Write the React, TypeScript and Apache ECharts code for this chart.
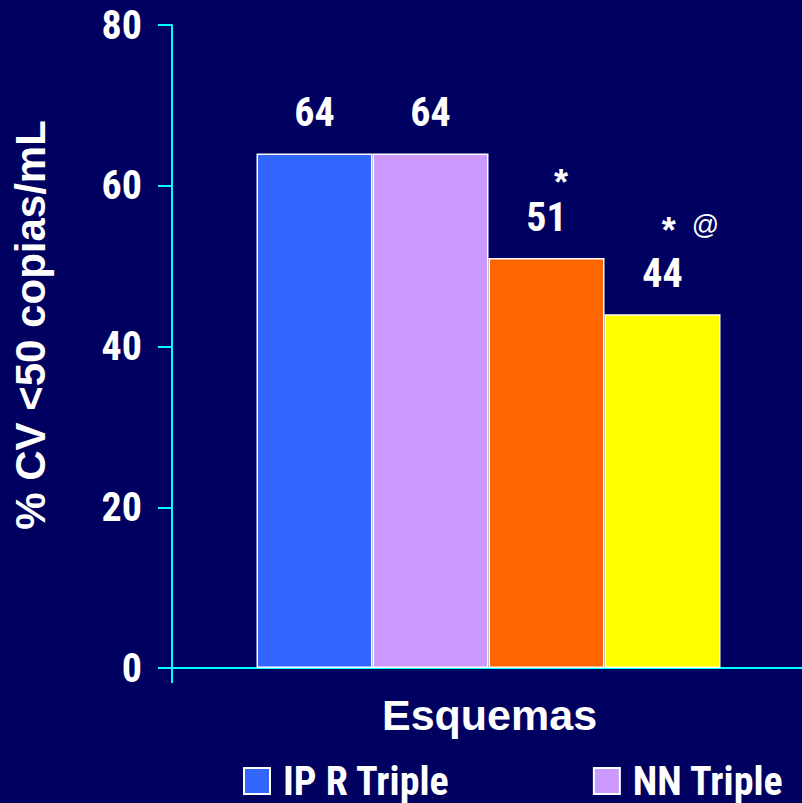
import React, { useEffect, useRef } from "react";
import * as echarts from "echarts";

const categories = ["Esquemas"];
const seriesNames = ["IP R Triple", "NN Triple", "Esquema 3", "Esquema 4"];
const seriesValues = [64, 64, 51, 44];
const annotations = ["", "", "*", "* @"];
const legendItems = ["IP R Triple", "NN Triple"];
const yTicks = [0, 20, 40, 60, 80];
const yAxisTitle = "% CV <50 copias/mL";
const xAxisTitle = "Esquemas";

const colors = ["#3366FF", "#CC99FF", "#FF6600", "#FFFF00"];
const BG = "#000060";
const CYAN = "#00FFFF";
const NARROW = '"Roboto Condensed", "Open Sans Condensed", sans-serif';
const WIDE = '"Liberation Sans", Arial, sans-serif';

function labelFor(i: number) {
  const v = seriesValues[i];
  const ann = annotations[i];
  const rich: any = {
    v: { fontFamily: NARROW, fontWeight: "bold", fontSize: 40, color: "#fff", lineHeight: 40 },
    s: { fontFamily: WIDE, fontWeight: "bold", fontSize: 36, color: "#fff", lineHeight: 30 },
    a: { fontFamily: WIDE, fontWeight: "normal", fontSize: 27, color: "#fff", lineHeight: 20, padding: [0, 0, 10, 0] },
  };
  let formatter = `{v|${v}}`;
  if (ann === "*") {
    rich.s = { ...rich.s, padding: [0, 0, 0, 29] };
    formatter = `{s|*}\n{v|${v}}`;
  } else if (ann === "* @") {
    rich.s = { ...rich.s, padding: [0, 16, 0, 56], lineHeight: 46 };
    formatter = `{s|*}{a|@}\n{v|${v}}`;
  }
  return {
    show: true,
    position: "top",
    distance: 21,
    formatter,
    rich,
  };
}

export default function App() {
  const ref = useRef<HTMLDivElement>(null);
  useEffect(() => {
    if (!ref.current) return;
    const chart = echarts.init(ref.current, null, { renderer: "svg" });
    chart.setOption({
      animation: false,
      backgroundColor: BG,
      grid: { left: 172, right: -3, top: 25, bottom: 135, outerBoundsMode: "none" },
      legend: {
        data: legendItems,
        left: 238,
        top: 756,
        width: 600,
        icon: "rect",
        itemWidth: 26,
        itemHeight: 26,
        itemGap: 143,
        itemStyle: { borderColor: "#fff", borderWidth: 2 },
        textStyle: {
          color: "#fff",
          fontFamily: NARROW,
          fontWeight: "bold",
          fontSize: 40,
          padding: [0, 0, 0, 8],
        },
      },
      xAxis: {
        type: "category",
        data: categories,
        name: xAxisTitle,
        nameLocation: "middle",
        nameGap: 25,
        nameTextStyle: {
          color: "#fff",
          fontFamily: WIDE,
          fontWeight: "bold",
          fontSize: 43,
          padding: [0, 0, 0, 2],
        },
        axisLine: { lineStyle: { color: CYAN, width: 2 } },
        axisTick: { show: true, length: 15, lineStyle: { color: CYAN, width: 2 } },
        axisLabel: { show: false },
        splitLine: { show: false },
      },
      yAxis: {
        type: "value",
        min: yTicks[0],
        max: yTicks[yTicks.length - 1],
        interval: yTicks[1] - yTicks[0],
        axisLine: { show: true, lineStyle: { color: CYAN, width: 2 } },
        axisTick: { show: true, length: 14, lineStyle: { color: CYAN, width: 2 } },
        axisLabel: {
          color: "#fff",
          fontFamily: NARROW,
          fontWeight: "bold",
          fontSize: 40,
          margin: 30,
        },
        splitLine: { show: false },
      },
      graphic: [
        {
          type: "text",
          x: 30,
          y: 325,
          rotation: Math.PI / 2,
          style: {
            text: yAxisTitle,
            fill: "#fff",
            fontFamily: WIDE,
            fontWeight: "bold",
            fontSize: 42,
            align: "center",
            verticalAlign: "middle",
          },
        },
      ],
      series: seriesValues.map((v, i) => ({
        name: seriesNames[i],
        type: "bar",
        data: [v],
        barWidth: 116,
        barGap: "0%",
        itemStyle: { color: colors[i], borderColor: "#fff", borderWidth: 1.5 },
        label: labelFor(i),
      })),
    });
    return () => chart.dispose();
  }, []);
  return (
    <div
      ref={ref}
      style={{ position: "fixed", left: 0, top: 0, width: 802, height: 803, background: BG }}
    />
  );
}
